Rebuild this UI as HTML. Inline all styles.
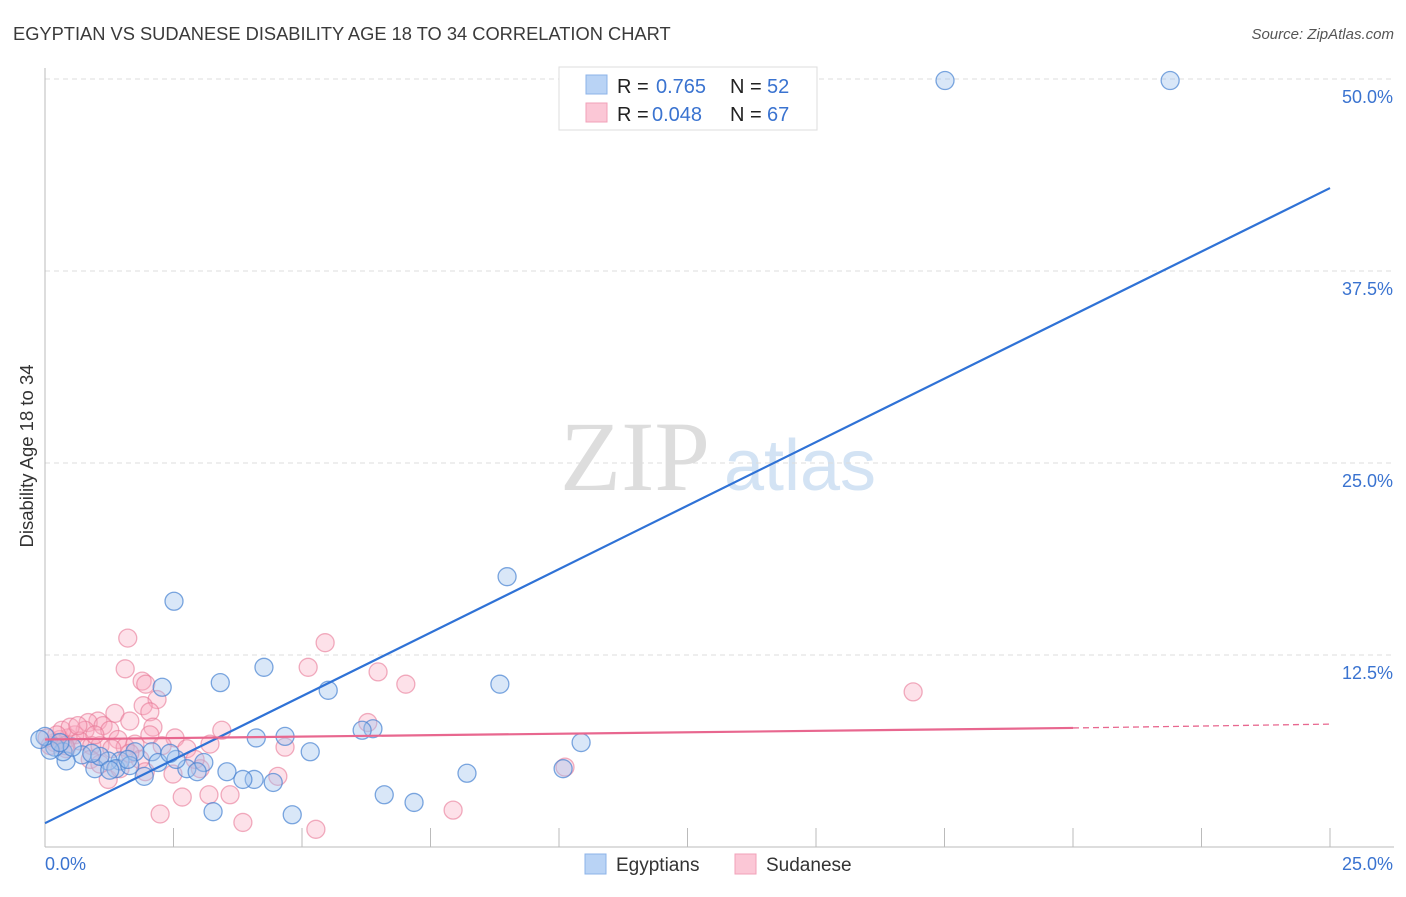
<!DOCTYPE html>
<html><head><meta charset="utf-8"><style>
body{margin:0;background:#fff;font-family:"Liberation Sans",sans-serif;}
</style></head><body>
<svg id="chart" width="1406" height="892" xmlns="http://www.w3.org/2000/svg" font-family="Liberation Sans, sans-serif">
<text x="13" y="40" font-size="18.3" fill="#3a3a3a">EGYPTIAN VS SUDANESE DISABILITY AGE 18 TO 34 CORRELATION CHART</text>
<text x="1394" y="39" font-size="15" fill="#555" font-style="italic" text-anchor="end">Source: ZipAtlas.com</text>
<text transform="translate(33,456) rotate(-90)" font-size="18.5" fill="#333" text-anchor="middle">Disability Age 18 to 34</text>
<g>
<text x="635" y="490" font-size="100" fill="#ddd" text-anchor="middle" font-family="Liberation Serif, serif">ZIP</text>
<text x="800" y="490" font-size="72" fill="#d3e3f4" text-anchor="middle">atlas</text>
</g>
<g id="grid"></g>
<g id="axes"></g>
<g id="pts"></g>
<g id="lines"></g>
<g>
<rect x="559" y="67" width="258" height="63" fill="#fff" stroke="#ddd"/>
<rect x="586" y="75" width="21" height="19" fill="#b9d3f5" stroke="#8cb3e8"/>
<rect x="586" y="103" width="21" height="19" fill="#fbc7d6" stroke="#f2a0b8"/>
<text x="617" y="93" font-size="20" fill="#222">R = </text><text x="656" y="93" font-size="20" fill="#3a73d0">0.765</text>
<text x="730" y="93" font-size="20" fill="#222">N = </text><text x="767" y="93" font-size="20" fill="#3a73d0">52</text>
<text x="617" y="121" font-size="20" fill="#222">R = </text><text x="652" y="121" font-size="20" fill="#3a73d0">0.048</text>
<text x="730" y="121" font-size="20" fill="#222">N = </text><text x="767" y="121" font-size="20" fill="#3a73d0">67</text>
</g>
<g>
<rect x="585" y="854" width="21" height="20" fill="#b9d3f5" stroke="#8cb3e8"/>
<text x="616" y="871" font-size="19" fill="#333">Egyptians</text>
<rect x="735" y="854" width="21" height="20" fill="#fbc7d6" stroke="#f2a0b8"/>
<text x="766" y="871" font-size="19" fill="#333">Sudanese</text>
</g>
</svg>
<script>
const yTicks=[12.5,25,37.5,50];
const yTickLabels=["12.5%","25.0%","37.5%","50.0%"];
const xTickLabels=["0.0%","25.0%"];
const egyX=[17.51,21.89,8.99,2.51,4.26,3.41,2.28,5.51,8.85,6.38,6.17,4.67,4.11,5.16,10.43,10.08,8.21,3.54,4.07,3.85,4.44,6.6,7.18,3.27,4.81,3.09,2.76,2.96,2.55,2.08,2.2,1.93,1.75,1.46,1.23,1.38,0.97,0.72,0.41,0.35,0.19,0.1,0,0.53,1.07,1.65,1.61,1.26,0.29,0.91,2.43,-0.1];
const egyY=[49.9,49.9,17.6,16.0,11.7,10.7,10.4,10.2,10.6,7.7,7.6,7.2,7.1,6.2,6.8,5.1,4.8,4.9,4.4,4.4,4.2,3.4,2.9,2.3,2.1,5.5,5.1,4.9,5.7,6.2,5.5,4.6,6.2,5.6,5.6,5.1,5.1,6.0,5.6,6.2,6.5,6.3,7.2,6.5,5.9,5.3,5.7,5.0,6.8,6.1,6.1,7.0];
const sudX=[1.61,5.45,1.56,5.12,6.48,7.02,16.89,1.89,1.96,2.18,1.91,2.04,1.36,1.65,1.03,0.84,1.13,1.26,2.1,2.53,2.76,3.44,3.21,4.67,6.28,4.53,3.02,2.49,2.67,2.24,3.19,3.6,3.85,5.27,7.94,10.117,0.78,0.58,0.45,0.29,0.19,0.1,0.33,0.49,0.68,0.91,1.07,1.42,1.56,1.75,1.23,1.46,1.85,2.04,2.28,0.64,0.04,0.23,0.41,0.97,1.3,1.65,1.95,2.92,0.88,0.39,1.07];
const sudY=[13.6,13.3,11.6,11.7,11.4,10.6,10.1,10.8,10.6,9.6,9.2,8.8,8.7,8.2,8.2,8.1,7.9,7.6,7.8,7.1,6.4,7.6,6.7,6.5,8.1,4.6,5.1,4.75,3.25,2.15,3.4,3.4,1.6,1.15,2.4,5.2,7.6,7.3,7.1,7.0,6.8,6.6,7.6,7.8,6.9,6.6,6.6,7.0,6.5,6.7,4.4,5.1,5.7,7.3,6.6,7.9,7.1,7.3,6.4,7.3,6.4,6.1,4.9,5.7,5.7,6.6,5.4];
const blueLine=[[0,1.55],[25,42.9]];
const pinkLine=[[0,7.0],[20,7.75],[25,8.0]];
const X=v=>45+v*51.4, Y=v=>847-v*15.36;
const NS="http://www.w3.org/2000/svg";
function mk(t,a,p){const e=document.createElementNS(NS,t);for(const k in a)e.setAttribute(k,a[k]);p.appendChild(e);return e;}
const grid=document.getElementById('grid'),axes=document.getElementById('axes'),pts=document.getElementById('pts'),lines=document.getElementById('lines');
yTicks.forEach((t,i)=>{
 const g=mk('line',{x1:45,x2:1394,y1:Y(t),y2:Y(t),stroke:'#ddd','stroke-dasharray':'5,4'},grid);
 
 
 const tx=mk('text',{x:1393,y:Y(t)+24,'font-size':18,fill:'#3a73d0','text-anchor':'end'},axes);
 tx.textContent=yTickLabels[i];
 
 
});
const ax=mk('line',{x1:45,x2:45,y1:68,y2:847,stroke:'#bbb'},axes);


const bx=mk('line',{x1:45,x2:1394,y1:847,y2:847,stroke:'#bbb'},axes);


for(let i=1;i<=10;i++){const t=mk('line',{x1:X(i*2.5),x2:X(i*2.5),y1:828,y2:847,stroke:'#bbb'},axes);
 
 }
[[0,'start',X(0)],[1,'end',1393]].forEach(([i,a,x])=>{const t=mk('text',{x:x,y:870,'font-size':18,fill:'#3a73d0','text-anchor':a},axes);t.textContent=xTickLabels[i];
 
 });
sudX.forEach((v,i)=>{const c=mk('circle',{cx:X(v),cy:Y(sudY[i]),r:9,fill:'rgba(248,170,192,0.35)',stroke:'rgba(232,120,150,0.6)','stroke-width':1.3},pts);
 
 });
egyX.forEach((v,i)=>{const c=mk('circle',{cx:X(v),cy:Y(egyY[i]),r:9,fill:'rgba(160,196,238,0.4)',stroke:'rgba(70,130,210,0.7)','stroke-width':1.3},pts);
 
 });
const bl=mk('line',{x1:X(blueLine[0][0]),y1:Y(blueLine[0][1]),x2:X(blueLine[1][0]),y2:Y(blueLine[1][1]),stroke:'#2f72d6','stroke-width':2.2},lines);


const pl=mk('line',{x1:X(pinkLine[0][0]),y1:Y(pinkLine[0][1]),x2:X(pinkLine[1][0]),y2:Y(pinkLine[1][1]),stroke:'#e8678f','stroke-width':2.2},lines);


const pd=mk('line',{x1:X(pinkLine[1][0]),y1:Y(pinkLine[1][1]),x2:X(pinkLine[2][0]),y2:Y(pinkLine[2][1]),stroke:'#e8678f','stroke-width':1.3,'stroke-dasharray':'6,4'},lines);


</script>
</body></html>
